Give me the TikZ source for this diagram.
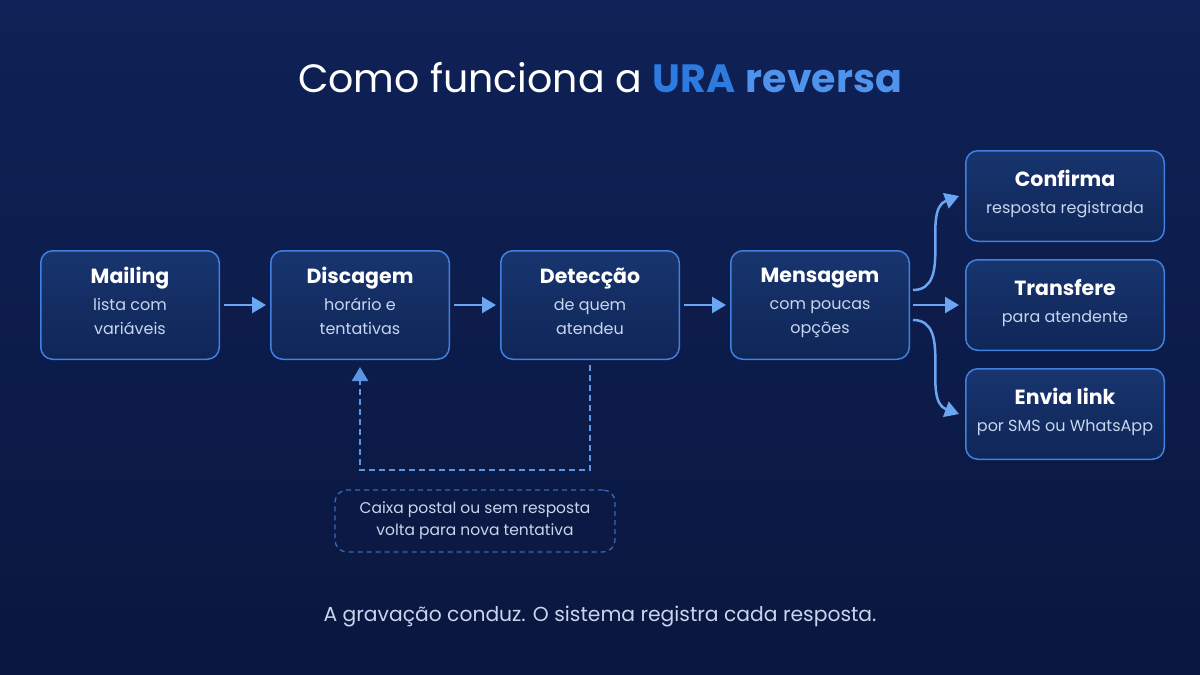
\documentclass[tikz,border=0pt]{standalone}
\usepackage{fontspec}
\setmainfont{Poppins}
\usetikzlibrary{arrows.meta,positioning}
\definecolor{BgTop}{HTML}{0F2156}
\definecolor{BgBot}{HTML}{0A173F}
\definecolor{BoxTop}{HTML}{18356F}
\definecolor{BoxBot}{HTML}{0F2657}
\definecolor{Edge}{HTML}{3F80E0}
\definecolor{Arrow}{HTML}{6AA6F2}
\definecolor{Dash}{HTML}{5A95E6}
\definecolor{NoteEdge}{HTML}{3A68B8}
\definecolor{Sub}{HTML}{C8D5EE}
\definecolor{Ura}{HTML}{2E7BE0}
\definecolor{Rev}{HTML}{4F93EC}
\newcommand{\hd}[1]{{\fontsize{20.5}{24}\selectfont\bfseries\color{white}#1}}

\begin{document}
\begin{tikzpicture}[x=1pt,y=-1pt,
    stage/.style={rounded corners=12pt,draw=Edge,line width=1.5pt,top color=BoxTop,
      bottom color=BoxBot,minimum width=178.5pt,minimum height=108.5pt,inner sep=0pt,
      align=center,text=Sub,text depth=8pt,font=\fontsize{16}{24}\selectfont},
    pick/.style={stage,minimum width=198.5pt,minimum height=90.5pt},
    arr/.style={-{Triangle[length=14pt,width=16pt]},line width=2.5pt,Arrow},
    back/.style={-{Triangle[length=14pt,width=16pt]},line width=2.5pt,Dash,
      dash pattern=on 6pt off 4pt},
    note/.style={rounded corners=12pt,draw=NoteEdge,line width=1.3pt,
      dash pattern=on 5pt off 4pt,minimum width=280pt,minimum height=62pt,
      align=center,text=Sub,font=\fontsize{15.5}{22}\selectfont}
  ]
    \fill[top color=BgTop,bottom color=BgBot] (0,0) rectangle (1200,675);
    \useasboundingbox (0,0) rectangle (1200,675);

    \node[text=white,font=\fontsize{39.5}{44}\selectfont] (title) at (600,78)
      {Como funciona a {\bfseries\color{Ura}URA} {\bfseries\color{Rev}reversa}};

    \node[stage] (mail) at (130,305) {\hd{Mailing}\\[3pt]lista com\\variáveis};
    \node[stage,right=50pt of mail] (disc) {\hd{Discagem}\\[3pt]horário e\\tentativas};
    \node[stage,right=50pt of disc] (det) {\hd{Detecção}\\[3pt]de quem\\atendeu};
    \node[stage,right=50pt of det] (msg) {\hd{Mensagem}\\[3pt]com poucas\\opções};

    \node[pick] (conf) at (1065,196) {\hd{Confirma}\\[3pt]resposta registrada};
    \node[pick,below=17pt of conf] (transf) {\hd{Transfere}\\[3pt]para atendente};
    \node[pick,below=17pt of transf] (link) {\hd{Envia link}\\[3pt]por SMS ou WhatsApp};

    \foreach \a/\b in {mail/disc,disc/det,det/msg}
      \draw[arr] ([xshift=4pt]\a.east) -- ([xshift=-4pt]\b.west);

    \draw[arr] ([xshift=3pt,yshift=15pt]msg.east) to[out=0,in=200] ([xshift=-6pt]conf.west);
    \draw[arr] ([xshift=3pt]msg.east) -- ([xshift=-6pt]transf.west);
    \draw[arr] ([xshift=3pt,yshift=-15pt]msg.east) to[out=0,in=160] ([xshift=-6pt]link.west);

    \draw[back] ([yshift=-5pt]det.south) -- ++(0,105) -| ([yshift=-7pt]disc.south);

    \node[note] (info) at (475,521) {Caixa postal ou sem resposta\\volta para nova tentativa};

    \node[text=Sub,font=\fontsize{20.3}{24}\selectfont] (foot) at (600,617)
      {A gravação conduz. O sistema registra cada resposta.};
  \end{tikzpicture}
\end{document}
